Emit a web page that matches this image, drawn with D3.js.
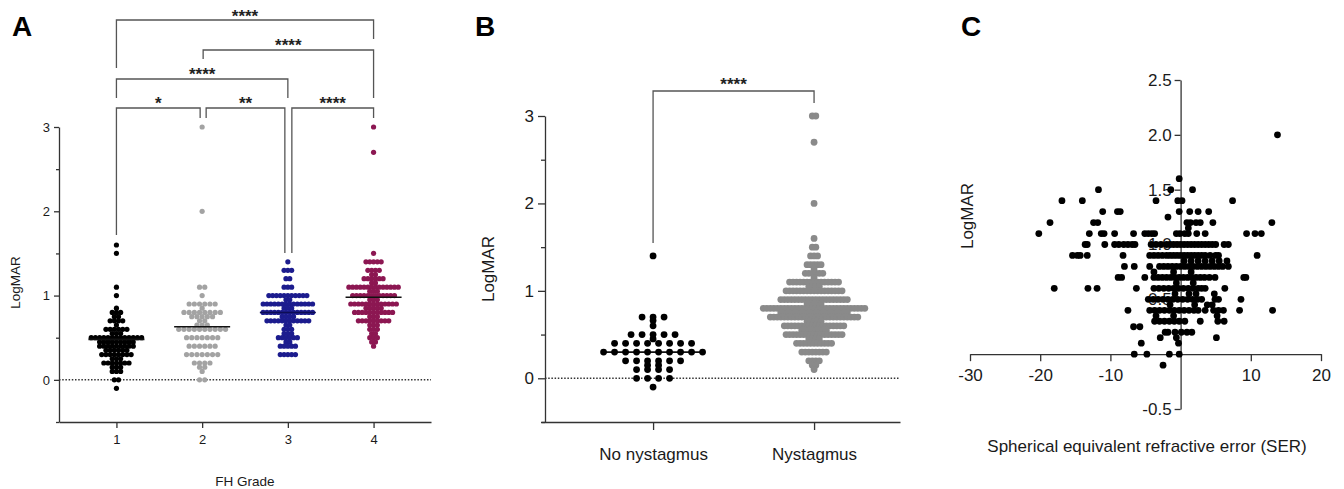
<!DOCTYPE html>
<html><head><meta charset="utf-8">
<script src="https://cdn.jsdelivr.net/npm/d3@7"></script>
<style>
body{margin:0;background:#fff}
svg{display:block}
text{font-family:"Liberation Sans",Arial,Helvetica,sans-serif}
</style>
</head><body>
<svg id="chart" width="1344" height="489"></svg>
<script>
// ---------------- DATA ----------------
// Panel A: LogMAR by FH grade, [value, number of eyes at that value]
const gradeCats = ["1", "2", "3", "4"];
const grade1 = [[1.6,1],[1.5,1],[1.1,1],[1.0,1],[0.85,1],[0.8,3],[0.75,2],[0.7,4],[0.65,1],[0.6,6],[0.55,3],[0.5,13],[0.45,9],[0.4,9],[0.35,6],[0.3,8],[0.25,3],[0.2,7],[0.15,3],[0.1,3],[0,2],[-0.1,1]];
const grade2 = [[3,1],[2,1],[1.1,2],[1.0,1],[0.9,6],[0.85,1],[0.8,8],[0.75,5],[0.7,2],[0.65,3],[0.6,10],[0.5,7],[0.4,6],[0.3,7],[0.2,4],[0.15,2],[0.1,1],[0,2]];
const grade3 = [[1.4,1],[1.3,3],[1.2,2],[1.1,3],[1.0,11],[0.95,2],[0.9,14],[0.85,3],[0.8,14],[0.75,4],[0.7,12],[0.65,2],[0.6,3],[0.55,3],[0.5,6],[0.45,2],[0.4,5],[0.3,5]];
const grade4 = [[3,1],[2.7,1],[1.5,1],[1.4,5],[1.3,4],[1.25,2],[1.2,6],[1.15,2],[1.1,14],[1.05,3],[1.0,12],[0.95,3],[0.9,13],[0.85,5],[0.8,11],[0.75,3],[0.7,9],[0.65,3],[0.6,3],[0.55,2],[0.5,3],[0.45,2],[0.4,1]];
const gradeMedians = [0.48, 0.63, 0.8, 0.98];
const gradeComparisons = [
  {a:"1", b:"4", label:"****"},
  {a:"2", b:"4", label:"****"},
  {a:"1", b:"3", label:"****"},
  {a:"1", b:"2", label:"*"},
  {a:"2", b:"3", label:"**"},
  {a:"3", b:"4", label:"****"}
];
const yTicksMajorAB = [0, 1, 2, 3];
const yTicksMinorAB = [-0.5, 0.5, 1.5, 2.5];

// Panel B: LogMAR by nystagmus status
const nystCats = ["No nystagmus", "Nystagmus"];
const noNyst = [[1.4,1],[0.7,3],[0.66,1],[0.6,1],[0.5,5],[0.45,1],[0.4,8],[0.3,10],[0.2,6],[0.15,2],[0.1,4],[0,4],[-0.1,1]];
const nyst = [[3,2],[2.7,1],[2,1],[1.6,1],[1.5,2],[1.4,3],[1.3,5],[1.25,1],[1.2,6],[1.15,1],[1.1,15],[1.05,4],[1.0,17],[0.9,20],[0.85,5],[0.8,30],[0.75,20],[0.7,26],[0.65,5],[0.6,18],[0.55,8],[0.5,17],[0.45,4],[0.4,11],[0.3,8],[0.2,4],[0.15,2],[0.1,1]];
const nystMedians = [0.3, 0.8];
const nystComparison = {a:"No nystagmus", b:"Nystagmus", label:"****"};

// Panel C: LogMAR vs SER, points grouped by LogMAR level
const serLevels = [2.0, 1.6, 1.5, 1.4, 1.3, 1.25, 1.2, 1.15, 1.1, 1.0, 0.9, 0.85, 0.8, 0.75, 0.7, 0.65, 0.6, 0.55, 0.5, 0.45, 0.4, 0.35, 0.3, 0.25, 0.2, 0.15, 0.1, 0, -0.1];
const serValues = [
  [13.8],
  [-0.2],
  [-11.7,-1.4,1.7],
  [-16.9,-14.0,-3.5,-0.4,0.2,7.4],
  [-11.1,-9.0,-8.6,-0.2,1.3,2.5,4.0],
  [-1.8],
  [-18.6,-12.4,-11.8,0.9,1.4,2.2,2.8,4.6,13.0],
  [1.1],
  [-20.2,-13.0,-11.3,-10.9,-9.4,-6.7,-5.1,-4.6,-4.1,-3.7,-0.6,-0.1,0.6,1.1,2.3,3.5,9.4,10.6,11.5],
  [-13.6,-13.3,-10.8,-9.4,-8.8,-8.1,-7.5,-6.9,-6.5,-4.2,-3.5,-2.8,-2.0,-1.5,-1.0,-0.5,0,0.5,1.0,1.5,2.0,2.5,3.0,3.5,4.0,4.5,5.0,6.2,6.8],
  [-15.4,-14.7,-14.3,-13.3,-8.2,-4.4,-3.8,-3.2,-2.6,-2.0,-1.5,-1.0,-0.5,0,0.5,1.0,1.5,2.0,2.5,3.0,3.5,4.2,5.0,5.4,10.9],
  [0.5,1.5,2.5,3.5,4.5,5.5,6.6],
  [-8.0,-6.6,-4.4,-3.0,-2.4,-1.8,-1.2,-0.6,0,0.6,1.2,1.8,2.4,3.0,3.6,4.2,4.8,5.4,6.0,6.8],
  [-3.8,-1.0,1.5],
  [-8.9,-8.4,-5.1,-3.8,-3.2,-2.6,-2.0,-1.4,-0.8,-0.2,0.4,1.0,1.6,2.2,2.8,3.4,4.1,4.9,9.0,9.3],
  [-0.6,1.8],
  [-18.0,-13.2,-11.9,-6.3,-3.8,-3.1,-2.4,-1.7,-1.0,-0.3,0.4,1.1,1.8,2.5,3.0,3.5,6.3],
  [-0.8,1.2,2.2,4.8],
  [-4.6,-3.9,-3.2,-2.5,-1.8,-1.1,-0.4,0.3,1.0,1.7,2.4,3.0,4.9,5.4,8.6],
  [-1.5,2.0,3.8,4.5],
  [-7.5,-4.4,-3.7,-3.0,-2.3,-1.6,-0.9,-0.2,0.5,1.2,1.9,2.5,3.5,4.7,5.4,6.1,8.4,13.1],
  [-3.5,-1.0,5.2],
  [-3.7,-3.0,-2.3,-1.6,-0.9,-0.2,0.6,2.8,5.3,6.2],
  [-6.7,-5.8],
  [-2.2,-1.8,-0.8,0.1,0.9,1.6],
  [-2.9,-0.6,5.1],
  [-5.6,-0.3],
  [-6.6,-4.8,-1.6,-0.2],
  [-2.5]
];
const serTicksX = [-30, -20, -10, 10, 20];
const serTicksY = [-0.5, 0.5, 1.0, 1.5, 2.0, 2.5];

// ---------------- DRAWING ----------------
const svg = d3.select("#chart");
svg.append("rect").attr("width",1344).attr("height",489).attr("fill","#fff");
const AX = "#333", TXT = "#1a1a1a";

function styleAxis(g, fs){
  g.select(".domain").attr("stroke", AX).attr("stroke-width", 1.3);
  g.selectAll(".tick line").attr("stroke", AX).attr("stroke-width", 1.3);
  g.selectAll(".tick text").attr("fill", TXT).style("font-size", fs + "px")
    .style("font-family", '"Liberation Sans",Arial,sans-serif');
}
function expandRows(rows, spacing){
  const pts = [];
  rows.forEach(([v, n]) => {
    for (let i = 0; i < n; i++) pts.push({v, off: (i - (n - 1) / 2) * spacing});
  });
  return pts;
}

// ===== Panel A =====
const xA = d3.scalePoint().domain(gradeCats).range([59, 431]).padding(0.67);
const yA = d3.scaleLinear().domain([-0.5, 3]).range([422, 127]);
const gA = svg.append("g");

const yAxA = gA.append("g").attr("transform","translate(59,0)")
  .call(d3.axisLeft(yA).tickValues(yTicksMajorAB).tickFormat(d3.format("d")).tickSize(5).tickPadding(4).tickSizeOuter(0));
styleAxis(yAxA, 13);
const yAxAm = gA.append("g").attr("transform","translate(59,0)")
  .call(d3.axisLeft(yA).tickValues(yTicksMinorAB).tickFormat("").tickSize(3));
yAxAm.select(".domain").remove(); styleAxis(yAxAm, 13);
const xAxA = gA.append("g").attr("transform","translate(0,422)")
  .call(d3.axisBottom(xA).tickSize(6).tickPadding(7).tickSizeOuter(0));
styleAxis(xAxA, 13);

gA.append("line").attr("x1",59).attr("x2",431).attr("y1",yA(0)).attr("y2",yA(0))
  .attr("stroke","#333").attr("stroke-width",1.5).attr("stroke-dasharray","1.5,1.7");

gA.append("text").attr("transform",`translate(20,${(yA(3)+yA(-0.5))/2 + 8}) rotate(-90)`)
  .attr("text-anchor","middle").attr("fill",TXT).style("font-size","13.5px").text("LogMAR");
gA.append("text").attr("x",245).attr("y",486).attr("text-anchor","middle")
  .attr("fill",TXT).style("font-size","13.5px").text("FH Grade");
svg.append("text").attr("x",12).attr("y",36).attr("fill","#000")
  .style("font-size","28px").style("font-weight","bold").text("A");

const gradeData = [grade1, grade2, grade3, grade4];
const gradeColor = ["#000000", "#a3a3a3", "#1c1c8e", "#8c1752"];
const gradeSpacing = [4.2, 5.2, 3.8, 3.8];
gradeData.forEach((rows, i) => {
  const cx = xA(gradeCats[i]);
  const pts = expandRows(rows, gradeSpacing[i]);
  gA.append("g").selectAll("circle").data(pts).join("circle")
    .attr("cx", d => cx + d.off).attr("cy", d => yA(d.v)).attr("r", 2.6)
    .attr("fill", gradeColor[i]);
  gA.append("line").attr("x1", cx - 28).attr("x2", cx + 28)
    .attr("y1", yA(gradeMedians[i])).attr("y2", yA(gradeMedians[i]))
    .attr("stroke", i === 2 ? "#0d0d55" : "#111").attr("stroke-width", 1.6);
});

// significance brackets A (layout geometry)
const bracketGeomA = [
  {y:20,  da:0, db:0,  la:68,  lb:39,  ty:11.5},
  {y:50,  da:1, db:0,  la:59,  lb:98,  ty:40.5},
  {y:79,  da:0, db:0,  la:98,  lb:98,  ty:69.5},
  {y:108, da:0, db:-2, la:235, lb:118, ty:99},
  {y:108, da:4, db:-3, la:118, lb:253, ty:99},
  {y:108, da:4, db:0,  la:253, lb:118, ty:99}
];
gradeComparisons.forEach((c, i) => {
  const g = bracketGeomA[i];
  const x1 = xA(c.a) + g.da, x2 = xA(c.b) + g.db;
  gA.append("path").attr("d", `M${x1},${g.la}V${g.y}H${x2}V${g.lb}`)
    .attr("fill","none").attr("stroke","#555").attr("stroke-width",1.3);
  gA.append("text").attr("x",(x1+x2)/2).attr("y",g.ty+10).attr("text-anchor","middle")
    .attr("fill","#222").style("font-size","17px").style("font-weight","bold").text(c.label);
});

// ===== Panel B =====
const xB = d3.scalePoint().domain(nystCats).range([541, 900]).padding(0.615).align(0.566);
const yB = d3.scaleLinear().domain([-0.5, 3]).range([422, 116]);
const gB = svg.append("g");
const yAxB = gB.append("g").attr("transform","translate(545,0)")
  .call(d3.axisLeft(yB).tickValues(yTicksMajorAB).tickFormat(d3.format("d")).tickSize(7).tickPadding(4).tickSizeOuter(0));
styleAxis(yAxB, 17);
const yAxBm = gB.append("g").attr("transform","translate(545,0)")
  .call(d3.axisLeft(yB).tickValues(yTicksMinorAB).tickFormat("").tickSize(4));
yAxBm.select(".domain").remove(); styleAxis(yAxBm, 17);
const xAxB = gB.append("g").attr("transform","translate(0,422)")
  .call(d3.axisBottom(xB).tickSize(8).tickPadding(18).tickSizeOuter(0));
styleAxis(xAxB, 17);

gB.append("line").attr("x1",545).attr("x2",900).attr("y1",yB(0)).attr("y2",yB(0))
  .attr("stroke","#333").attr("stroke-width",1.5).attr("stroke-dasharray","1.5,1.7");
gB.append("text").attr("transform",`translate(494,${(yB(3)+yB(-0.5))/2}) rotate(-90)`)
  .attr("text-anchor","middle").attr("fill",TXT).style("font-size","17px").text("LogMAR");
svg.append("text").attr("x",475).attr("y",36).attr("fill","#000")
  .style("font-size","28px").style("font-weight","bold").text("B");

const nystData = [noNyst, nyst];
const nystColor = ["#000000", "#8a8a8a"];
const nystSpacing = [11, 3.5];
const nystHalf = [51, 0];
nystData.forEach((rows, i) => {
  const cx = xB(nystCats[i]);
  const pts = expandRows(rows, nystSpacing[i]);
  if (nystHalf[i] > 0) {
    gB.append("line").attr("x1", cx - nystHalf[i]).attr("x2", cx + nystHalf[i])
      .attr("y1", yB(nystMedians[i])).attr("y2", yB(nystMedians[i]))
      .attr("stroke","#111").attr("stroke-width",1.8);
  }
  gB.append("g").selectAll("circle").data(pts).join("circle")
    .attr("cx", d => cx + d.off).attr("cy", d => yB(d.v)).attr("r", 3.4)
    .attr("fill", nystColor[i]);
});
{
  const x1 = xB(nystComparison.a), x2 = xB(nystComparison.b);
  gB.append("path").attr("d", `M${x1},243V91H${x2}V103`)
    .attr("fill","none").attr("stroke","#555").attr("stroke-width",1.3);
  gB.append("text").attr("x",(x1+x2)/2).attr("y",79.5+10).attr("text-anchor","middle")
    .attr("fill","#222").style("font-size","17px").style("font-weight","bold").text(nystComparison.label);
}

// ===== Panel C =====
const xC = d3.scaleLinear().domain([-30, 20]).range([970, 1321]);
const yC = d3.scaleLinear().domain([-0.5, 2.5]).range([409, 80]);
const gC = svg.append("g");
const xAxC = gC.append("g").attr("transform",`translate(0,${yC(0)})`)
  .call(d3.axisBottom(xC).tickValues(serTicksX).tickFormat(d => String(d)).tickSize(7).tickPadding(8).tickSizeOuter(0));
styleAxis(xAxC, 17);
const yAxC = gC.append("g").attr("transform",`translate(${xC(0)},0)`)
  .call(d3.axisLeft(yC).tickValues(serTicksY).tickFormat(d => d.toFixed(1)).tickSize(6).tickPadding(3).tickSizeOuter(0));
styleAxis(yAxC, 17);

gC.append("text").attr("transform",`translate(973,216) rotate(-90)`)
  .attr("text-anchor","middle").attr("fill",TXT).style("font-size","17px").text("LogMAR");
gC.append("text").attr("x",1147).attr("y",452).attr("text-anchor","middle")
  .attr("fill",TXT).style("font-size","17px").text("Spherical equivalent refractive error (SER)");
svg.append("text").attr("x",961).attr("y",36).attr("fill","#000")
  .style("font-size","28px").style("font-weight","bold").text("C");

const serPts = [];
serLevels.forEach((lv, i) => serValues[i].forEach(s => serPts.push({s, v: lv})));
gC.append("g").selectAll("circle").data(serPts).join("circle")
  .attr("cx", d => xC(d.s)).attr("cy", d => yC(d.v)).attr("r", 3.4).attr("fill","#000");
</script>
</body></html>
